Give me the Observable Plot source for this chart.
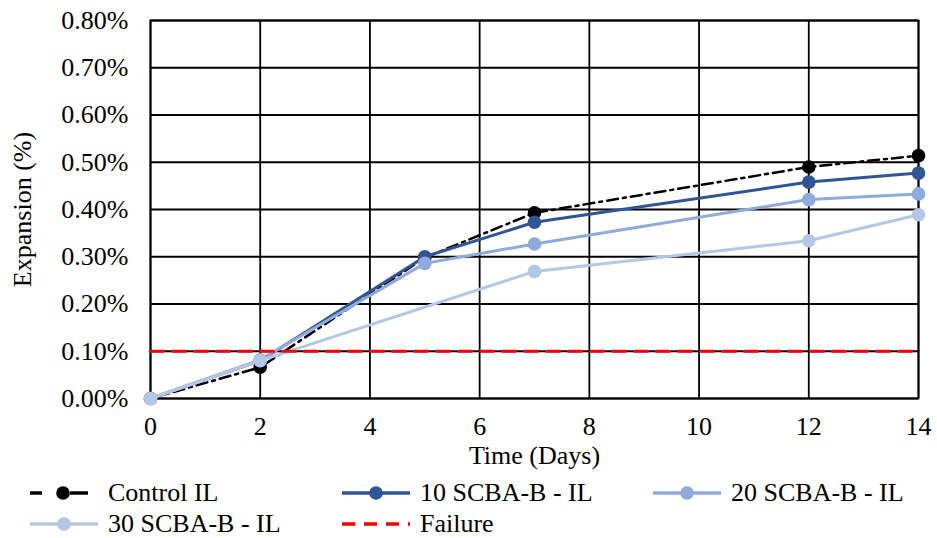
<!DOCTYPE html>
<html>
<head>
<meta charset="utf-8">
<script src="https://cdn.jsdelivr.net/npm/d3@7"></script>
<script src="https://cdn.jsdelivr.net/npm/@observablehq/plot@0.6"></script>
<style>
  html, body { margin: 0; padding: 0; background: #fff; }
  #wrap { position: relative; width: 937px; height: 538px; font-family: "Liberation Serif", "Times New Roman", serif; }
  .leg { position: absolute; display: flex; align-items: center; font-size: 26px; line-height: 24px; height: 24px; color: #000; white-space: nowrap; transform: translateY(-50%); }
  .leg svg { margin-right: 8px; display: block; }
</style>
</head>
<body>
<div id="wrap"></div>
<script>
// ---- data ----
const days = [0, 2, 5, 7, 12, 14];
const controlIL = [0, 0.066, 0.298, 0.393, 0.490, 0.514];
const scba10 = [0, 0.080, 0.300, 0.373, 0.458, 0.477];
const scba20 = [0, 0.082, 0.286, 0.327, 0.421, 0.433];
const days30 = [0, 2, 7, 12, 14];
const scba30 = [0, 0.080, 0.269, 0.334, 0.389];
const failureDays = [0, 14];
const failureVal = [0.1, 0.1];
const xTicks = [0, 2, 4, 6, 8, 10, 12, 14];
const yTicks = [0, 0.1, 0.2, 0.3, 0.4, 0.5, 0.6, 0.7, 0.8];
const seriesNames = ["Control IL", "10 SCBA-B - IL", "20 SCBA-B - IL", "30 SCBA-B - IL", "Failure"];

// ---- styles ----
const colors = ["#000000", "#2F5597", "#8FAADC", "#B4C7E7", "#FF0000"];
const dashes = ["11,5,3,5", null, null, null, "13,9"];

const toRows = (xs, ys) => xs.map((x, i) => ({x, y: ys[i]}));
const series = [
  toRows(days, controlIL),
  toRows(days, scba10),
  toRows(days, scba20),
  toRows(days30, scba30)
];
const failure = toRows(failureDays, failureVal);

const marks = [
  Plot.gridX(xTicks, {stroke: "#000", strokeOpacity: 1, strokeWidth: 1.8}),
  Plot.gridY(yTicks, {stroke: "#000", strokeOpacity: 1, strokeWidth: 1.8}),
  Plot.frame({stroke: "#000", strokeWidth: 1.8})
];
series.forEach((rows, i) => {
  marks.push(Plot.line(rows, {x: "x", y: "y", stroke: colors[i], strokeWidth: i === 0 ? 2.5 : 3, strokeDasharray: dashes[i] || undefined}));
  marks.push(Plot.dot(rows, {x: "x", y: "y", r: 6.8, fill: colors[i], stroke: "none"}));
});
marks.push(Plot.line(failure, {x: "x", y: "y", stroke: colors[4], strokeWidth: 3, strokeDasharray: dashes[4]}));

const chart = Plot.plot({
  width: 937,
  height: 470,
  marginLeft: 150,
  marginRight: 19,
  marginTop: 20,
  marginBottom: 72,
  style: {fontFamily: "Liberation Serif, Times New Roman, serif", fontSize: "26px", color: "#000", background: "#fff", overflow: "visible"},
  x: {domain: [0, 14], ticks: xTicks, tickSize: 0, tickPadding: 18, label: "Time (Days)", labelAnchor: "center", labelArrow: "none", labelOffset: 65},
  y: {domain: [0, 0.8], ticks: yTicks, tickSize: 0, tickPadding: 22, tickFormat: d => d.toFixed(2) + "%", label: "Expansion (%)", labelAnchor: "center", labelArrow: "none", labelOffset: 138},
  marks
});
const wrap = document.getElementById("wrap");
wrap.appendChild(chart);

// ---- legend ----
const legendPos = [[30, 493], [342, 493], [653, 493], [30, 524], [342, 524]];
seriesNames.forEach((name, i) => {
  const d = document.createElement("div");
  d.className = "leg";
  d.style.left = legendPos[i][0] + "px";
  d.style.top = legendPos[i][1] + "px";
  const svg = d3.create("svg").attr("width", 70).attr("height", 20);
  if (i === 0) {
    svg.append("line").attr("x1", 0).attr("x2", 12).attr("y1", 10).attr("y2", 10).attr("stroke", colors[i]).attr("stroke-width", 3.5);
    svg.append("line").attr("x1", 40).attr("x2", 58).attr("y1", 10).attr("y2", 10).attr("stroke", colors[i]).attr("stroke-width", 3.5);
    svg.append("circle").attr("cx", 33).attr("cy", 10).attr("r", 6.8).attr("fill", colors[i]);
  } else {
    svg.append("line").attr("x1", 0).attr("x2", 68).attr("y1", 10).attr("y2", 10)
      .attr("stroke", colors[i]).attr("stroke-width", 3.5)
      .attr("stroke-dasharray", i === 4 ? "13,9" : null);
    if (i < 4) svg.append("circle").attr("cx", 34).attr("cy", 10).attr("r", 6.8).attr("fill", colors[i]);
  }
  d.appendChild(svg.node());
  const t = document.createElement("span");
  t.textContent = name;
  d.appendChild(t);
  wrap.appendChild(d);
});
</script>
</body>
</html>
